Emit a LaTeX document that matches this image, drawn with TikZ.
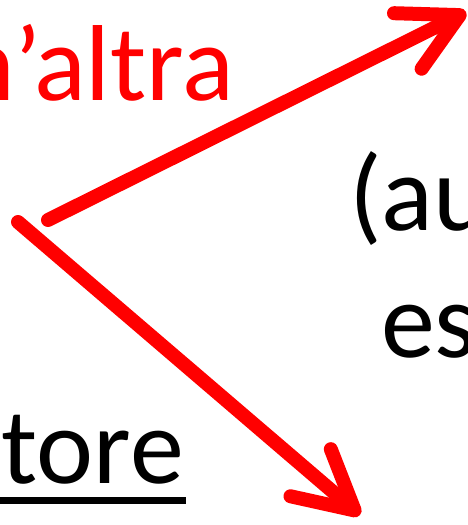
\documentclass[tikz,border=0pt]{standalone}
\usepackage{fontspec}
\setmainfont{Carlito}
\usetikzlibrary{arrows.meta}
\definecolor{pptred}{RGB}{255,0,0}
\tikzset{
  bigtext/.style={inner sep=0pt, font=\fontsize{108}{126}\selectfont},
  redarrow/.style={draw=pptred, line width=14pt, line cap=round,
    -{Straight Barb[length=58pt, width=62pt, round]}},
}
\begin{document}
\begin{tikzpicture}[x=1pt,y=-1pt]
\useasboundingbox (0,0) rectangle (467,525);
\clip (0,0) rectangle (467,525);
\node[bigtext, text=pptred, anchor=base east] (altra) at (234,100) {n’altra};
\node[bigtext, anchor=base west] (au) at (349,230) {(au};
\node[bigtext, anchor=base west] (es) at (381,357) {es};
\node[bigtext, anchor=base east] (tore) at (184,483) {tore};
\fill (0,497) rectangle (186,504);
\coordinate (s1) at (48,220);
\coordinate (t1) at (466,12);
\coordinate (s2) at (18,222);
\coordinate (t2) at (360,515);
\draw[redarrow] (s1) -- (t1);
\draw[redarrow] (s2) -- (t2);
\end{tikzpicture}
\end{document}
